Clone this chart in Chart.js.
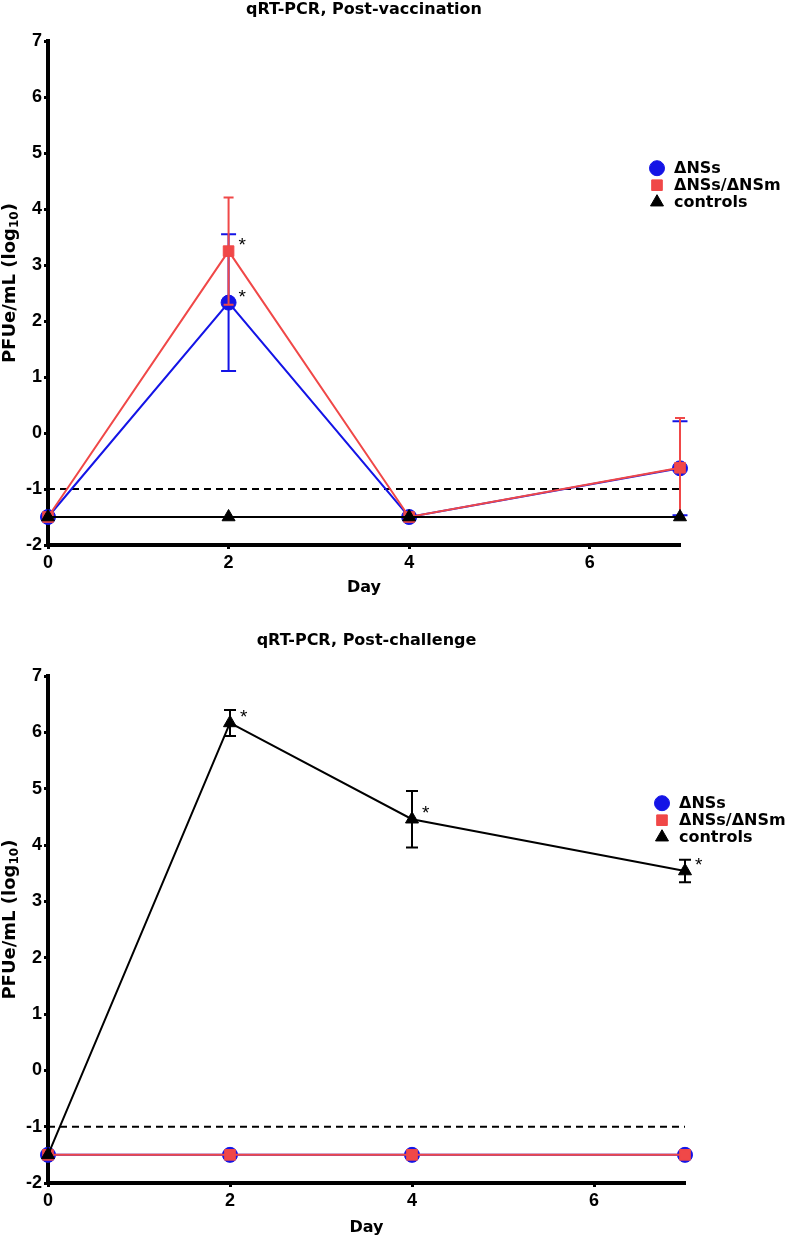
<!DOCTYPE html>
<html>
<head>
<meta charset="utf-8">
<script src="https://cdn.jsdelivr.net/npm/chart.js@4.4.1/dist/chart.umd.min.js"></script>
<style>
  body { margin: 0; background: #fff; }
  .box { position: relative; width: 787px; }
</style>
</head>
<body>
<div class="box" style="height:618px"><canvas id="vaccChart"></canvas></div>
<div class="box" style="height:619px"><canvas id="chalChart"></canvas></div>
<script>
const days = [0, 2, 4, 7];
const xTicks = [0, 2, 4, 6];
const yTicks = [-2, -1, 0, 1, 2, 3, 4, 5, 6, 7];
const limitOfDetection = -1;
const seriesLabels = ['ΔNSs', 'ΔNSs/ΔNSm', 'controls'];

// post-vaccination
const vaccNSs = [-1.5, 2.33, -1.5, -0.63];
const vaccNSsErr = [0, 1.22, 0, 0.84];
const vaccNSsStar = [false, true, false, false];
const vaccNSsNSm = [-1.5, 3.25, -1.5, -0.62];
const vaccNSsNSmErr = [0, 0.96, 0, 0.89];
const vaccNSsNSmStar = [false, true, false, false];
const vaccControls = [-1.5, -1.5, -1.5, -1.5];

// post-challenge
const chalNSs = [-1.5, -1.5, -1.5, -1.5];
const chalNSsNSm = [-1.5, -1.5, -1.5, -1.5];
const chalControls = [-1.5, 6.17, 4.46, 3.54];
const chalControlsErr = [0, 0.23, 0.5, 0.2];
const chalControlsStar = [false, true, true, true];

const BLUE = '#1414e6';
const RED = '#f04848';
const BLACK = '#000';

const toPoints = vals => vals.map((v, i) => ({ x: days[i], y: v }));

// error bars, asterisks, y title with subscript, legend
const extras = {
    id: 'extras',
    beforeDatasetDraw(chart, args) {
        const ds = chart.data.datasets[args.index];
        if (!ds.errors) return;
        const { ctx, scales: { x, y } } = chart;
        ctx.save();
        ctx.strokeStyle = ds.borderColor;
        ctx.lineWidth = 2;
        ds.data.forEach((p, i) => {
            const e = ds.errors[i];
            if (!e) return;
            const px = x.getPixelForValue(p.x);
            const top = y.getPixelForValue(p.y + e);
            const bot = y.getPixelForValue(p.y - e);
            const w = ds.capWidth / 2;
            ctx.beginPath();
            ctx.moveTo(px, top); ctx.lineTo(px, bot);
            ctx.moveTo(px - w, top); ctx.lineTo(px + w, top);
            ctx.moveTo(px - w, bot); ctx.lineTo(px + w, bot);
            ctx.stroke();
        });
        ctx.restore();
    },
    afterDatasetsDraw(chart) {
        const { ctx, scales: { x, y } } = chart;
        ctx.save();
        ctx.fillStyle = '#000';
        ctx.font = '19px "Liberation Sans"';
        ctx.textBaseline = 'middle';
        chart.data.datasets.forEach(ds => {
            if (!ds.stars) return;
            ds.data.forEach((p, i) => {
                if (!ds.stars[i]) return;
                ctx.fillText('*', x.getPixelForValue(p.x) + 10, y.getPixelForValue(p.y) - 5);
            });
        });
        ctx.restore();
    },
    afterDraw(chart) {
        const { ctx, chartArea: ca } = chart;

        // y axis title
        ctx.save();
        ctx.fillStyle = '#000';
        ctx.textBaseline = 'middle';
        ctx.translate(10, (ca.top + ca.bottom) / 2 - 10);
        ctx.rotate(-Math.PI / 2);
        const big = 'bold 18px "DejaVu Sans"', small = 'bold 12px "DejaVu Sans"';
        ctx.font = big;
        const w1 = ctx.measureText('PFUe/mL (log').width;
        const w3 = ctx.measureText(')').width;
        ctx.font = small;
        const w2 = ctx.measureText('10').width;
        let tx = -(w1 + w2 + w3) / 2;
        ctx.font = big;
        ctx.fillText('PFUe/mL (log', tx, 0);
        tx += w1;
        ctx.font = small;
        ctx.fillText('10', tx, 5);
        tx += w2;
        ctx.font = big;
        ctx.fillText(')', tx, 0);
        ctx.restore();

        // legend
        ctx.save();
        const lx = ca.right - 23, ly = ca.top + 127;
        let row = 0;
        chart.data.datasets.forEach(ds => {
            if (!seriesLabels.includes(ds.label)) return;
            const yy = ly + row * 17;
            ctx.fillStyle = ds.pointBackgroundColor;
            ctx.strokeStyle = ds.pointBorderColor;
            ctx.lineWidth = 1;
            Chart.helpers.drawPoint(ctx, {
                pointStyle: ds.pointStyle, radius: 7.5, rotation: 0, borderWidth: 1
            }, lx, yy);
            ctx.fillStyle = '#000';
            ctx.font = 'bold 16px "DejaVu Sans"';
            ctx.textBaseline = 'middle';
            ctx.fillText(ds.label, lx + 17, yy + 1);
            row++;
        });
        ctx.restore();
    }
};

function series(label, vals, color, style, order, extra) {
    return Object.assign({
        label,
        data: toPoints(vals),
        borderColor: color,
        backgroundColor: color,
        pointBackgroundColor: color,
        pointBorderColor: color,
        pointBorderWidth: 1,
        pointStyle: style,
        pointRadius: 7.5,
        borderWidth: 2,
        tension: 0,
        clip: false,
        order
    }, extra || {});
}

function lodLine() {
    return {
        label: 'LOD',
        data: [{ x: days[0], y: limitOfDetection }, { x: days[days.length - 1], y: limitOfDetection }],
        borderColor: BLACK,
        borderWidth: 2,
        borderDash: [7, 5],
        pointRadius: 0,
        clip: false,
        order: 5
    };
}

function makeChart(id, title, datasets, padding, titlePad, xHeight) {
    const tickFont = { family: 'Liberation Sans', size: 18, weight: 'bold' };
    new Chart(document.getElementById(id), {
        type: 'line',
        data: { datasets },
        plugins: [extras],
        options: {
            responsive: true,
            maintainAspectRatio: false,
            animation: false,
            layout: { padding },
            plugins: {
                legend: { display: false },
                tooltip: { enabled: false },
                title: {
                    display: true,
                    text: title,
                    fullSize: false,
                    color: '#000',
                    font: { family: 'DejaVu Sans', size: 16, weight: 'bold' },
                    padding: { top: 0, bottom: titlePad }
                }
            },
            scales: {
                x: {
                    type: 'linear',
                    min: 0,
                    max: 7,
                    afterBuildTicks: s => { s.ticks = xTicks.map(v => ({ value: v })); },
                    afterFit: s => { s.height = xHeight; },
                    grid: { display: true, drawOnChartArea: false, drawTicks: true, tickLength: 4, tickWidth: 3, tickColor: '#000' },
                    border: { display: true, width: 4, color: '#000' },
                    ticks: { color: '#000', font: tickFont, padding: 3, maxRotation: 0, callback: v => String(v) },
                    title: {
                        display: true,
                        text: 'Day',
                        color: '#000',
                        font: { family: 'DejaVu Sans', size: 16, weight: 'bold' },
                        padding: { top: 0, bottom: 0 }
                    }
                },
                y: {
                    min: -2,
                    max: 7,
                    afterBuildTicks: s => { s.ticks = yTicks.map(v => ({ value: v })); },
                    afterFit: s => { s.width = 48; },
                    grid: { display: true, drawOnChartArea: false, drawTicks: true, tickLength: 4, tickWidth: 3, tickColor: '#000' },
                    border: { display: true, width: 4, color: '#000' },
                    ticks: { color: '#000', font: tickFont, padding: 2, callback: v => String(v) }
                }
            }
        }
    });
}

makeChart('vaccChart', 'qRT-PCR, Post-vaccination', [
    series(seriesLabels[0], vaccNSs, BLUE, 'circle', 2, { errors: vaccNSsErr, capWidth: 15, stars: vaccNSsStar }),
    series(seriesLabels[1], vaccNSsNSm, RED, 'rect', 1, { errors: vaccNSsNSmErr, capWidth: 10, stars: vaccNSsNSmStar }),
    series(seriesLabels[2], vaccControls, BLACK, 'triangle', 0),
    lodLine()
], { top: 0, right: 107, bottom: 21, left: 0 }, 22, 52);

makeChart('chalChart', 'qRT-PCR, Post-challenge', [
    series(seriesLabels[0], chalNSs, BLUE, 'circle', 2),
    series(seriesLabels[1], chalNSsNSm, RED, 'rect', 1),
    series(seriesLabels[2], chalControls, BLACK, 'triangle', 0, { errors: chalControlsErr, capWidth: 12, stars: chalControlsStar }),
    lodLine()
], { top: 13, right: 102, bottom: 0, left: 0 }, 26, 54);
</script>
</body>
</html>
